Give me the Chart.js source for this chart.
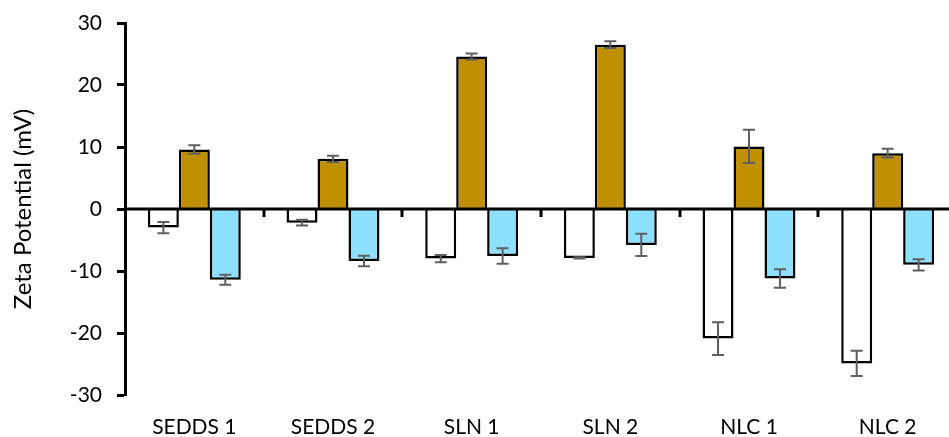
<!DOCTYPE html>
<html><head><meta charset="utf-8">
<script src="https://cdn.jsdelivr.net/npm/chart.js@4/dist/chart.umd.min.js"></script>
<style>html,body{margin:0;padding:0;overflow:hidden;background:#fff}#wrap{width:960px;height:437px}</style>
</head><body><div id="wrap"><canvas id="c" width="960" height="437"></canvas></div>
<script>
const categories = ["SEDDS 1","SEDDS 2","SLN 1","SLN 2","NLC 1","NLC 2"];
const seriesA = [-3.0, -2.2, -8.0, -7.9, -20.9, -24.9];
const errA    = [0.9, 0.45, 0.6, 0.1, 2.65, 2.05];
const seriesB = [9.6, 8.1, 24.6, 26.5, 10.1, 9.0];
const errB    = [0.7, 0.5, 0.5, 0.55, 2.7, 0.7];
const seriesC = [-11.4, -8.4, -7.6, -5.8, -11.2, -9.0];
const errC    = [0.8, 0.85, 1.25, 1.8, 1.5, 0.9];
const yTicks = [-30,-20,-10,0,10,20,30];
const yTitle = "Zeta Potential (mV)";

const FONT = "Lato, 'Open Sans', sans-serif";
const errs = [errA, errB, errC];

const zeroAxis = {
  id: 'zeroAxis',
  afterDatasetsDraw(chart) {
    const {ctx, chartArea, scales:{x, y}} = chart;
    const y0 = y.getPixelForValue(0);
    ctx.save();
    ctx.strokeStyle = '#5f5f5f';
    ctx.lineWidth = 2;
    chart.data.datasets.forEach((ds, di) => {
      const meta = chart.getDatasetMeta(di);
      meta.data.forEach((bar, i) => {
        const v = ds.data[i], e = errs[di][i];
        const yt = y.getPixelForValue(v + e), yb = y.getPixelForValue(v - e);
        const cx = bar.x;
        ctx.beginPath();
        ctx.moveTo(cx, yt); ctx.lineTo(cx, yb);
        ctx.moveTo(cx - 6, yt); ctx.lineTo(cx + 6, yt);
        ctx.moveTo(cx - 6, yb); ctx.lineTo(cx + 6, yb);
        ctx.stroke();
      });
    });
    ctx.strokeStyle = '#000';
    ctx.lineWidth = 3;
    ctx.beginPath();
    ctx.moveTo(chartArea.left, y0); ctx.lineTo(chartArea.right, y0);
    ctx.stroke();
    const w = x.getPixelForValue(1) - x.getPixelForValue(0);
    for (let i = 1; i < categories.length + 1; i++) {
      const px = Math.round(x.getPixelForValue(i) - w / 2);
      ctx.beginPath();
      ctx.moveTo(px, y0); ctx.lineTo(px, y0 + 8);
      ctx.stroke();
    }
    ctx.restore();
  }
};

new Chart(document.getElementById('c'), {
  type: 'bar',
  data: {
    labels: categories,
    datasets: [
      {data: seriesA, backgroundColor: '#ffffff', borderColor: '#000', borderWidth: 2.5},
      {data: seriesB, backgroundColor: '#bf8f00', borderColor: '#000', borderWidth: 2.5},
      {data: seriesC, backgroundColor: '#8ee0ff', borderColor: '#000', borderWidth: 2.5}
    ]
  },
  options: {
    responsive: false,
    animation: false,
    events: [],
    layout: {padding: {left: 0, right: 3, top: 23, bottom: 0}},
    plugins: {legend: {display: false}, tooltip: {enabled: false}},
    datasets: {bar: {categoryPercentage: 0.67, barPercentage: 1.0}},
    scales: {
      x: {
        grid: {display: false},
        border: {display: false},
        ticks: {color: '#000', font: {family: FONT, size: 21}, padding: 12},
        afterFit(s) { s.height = 42; s.paddingLeft = 0; s.paddingRight = 0; }
      },
      y: {
        min: -30, max: 30,
        afterBuildTicks(s) { s.ticks = yTicks.map(v => ({value: v})); },
        grid: {drawOnChartArea: false, tickLength: 8, tickWidth: 3, tickColor: '#000'},
        border: {display: true, color: '#000', width: 3},
        ticks: {color: '#000', font: {family: FONT, size: 21}, padding: 15},
        title: {display: true, text: yTitle, color: '#000', font: {family: FONT, size: 24}, padding: {top: 9, bottom: 0}},
        afterFit(s) { s.width = 125; s.paddingTop = 0; s.paddingBottom = 0; }
      }
    }
  },
  plugins: [zeroAxis]
});
</script></body></html>
